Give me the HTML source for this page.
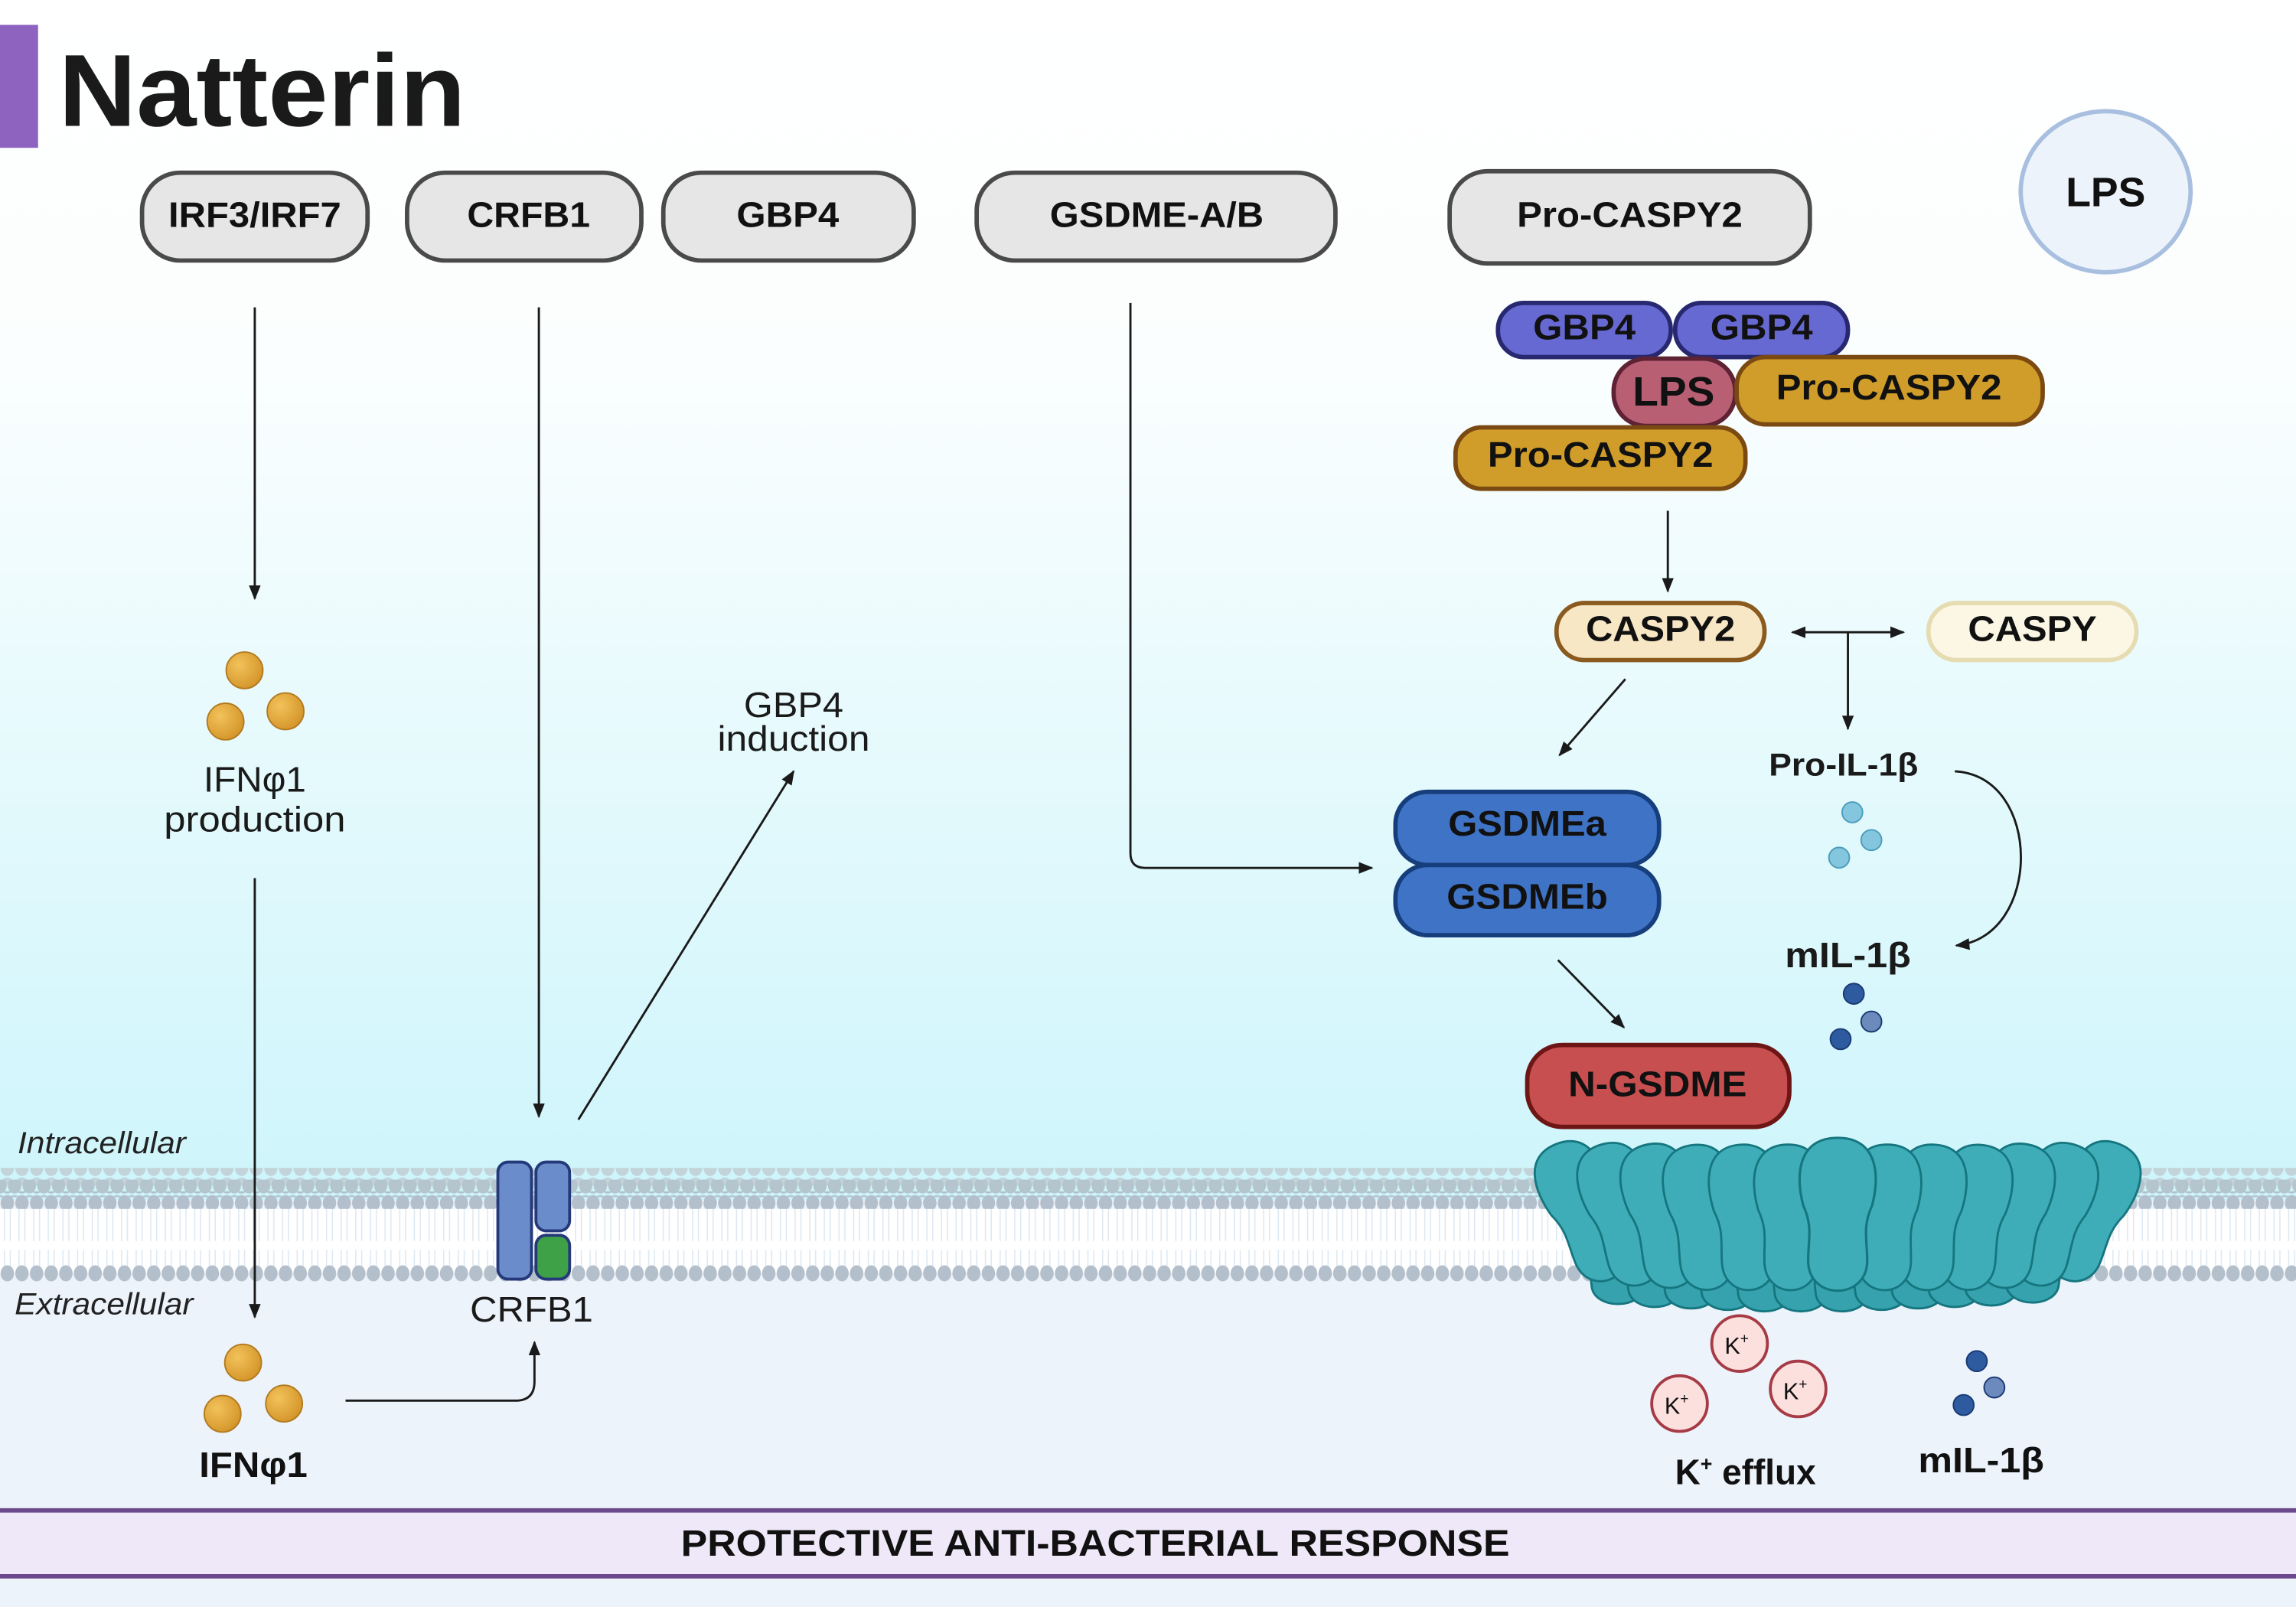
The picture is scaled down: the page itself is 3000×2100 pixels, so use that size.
<!DOCTYPE html>
<html><head><meta charset="utf-8"><style>
html,body{margin:0;padding:0;background:#fff;}
svg{display:block;}
text{font-family:"Liberation Sans",sans-serif;}
</style></head><body>
<svg width="3000" height="2100" viewBox="0 0 1568 1098" preserveAspectRatio="none" xmlns="http://www.w3.org/2000/svg">
<defs>
<linearGradient id="bg" x1="0" y1="0" x2="0" y2="1">
<stop offset="0" stop-color="#ffffff"/>
<stop offset="0.3" stop-color="#fbfefe"/>
<stop offset="1" stop-color="#cdf5fb"/>
</linearGradient>
<pattern id="headsTop" x="0" y="0" width="10" height="12" patternUnits="userSpaceOnUse">
<ellipse cx="5" cy="6" rx="4.6" ry="5.5" fill="#c2d3d9"/>
</pattern>
<pattern id="headsMid" x="5" y="0" width="10" height="12" patternUnits="userSpaceOnUse">
<ellipse cx="5" cy="6" rx="4.6" ry="5.5" fill="#b5c5cd"/>
</pattern>
<pattern id="headsBot" x="0" y="0" width="10" height="12" patternUnits="userSpaceOnUse">
<ellipse cx="5" cy="6" rx="4.6" ry="5.5" fill="#b3bfcb"/>
</pattern>
<pattern id="tails" x="0" y="0" width="10" height="46" patternUnits="userSpaceOnUse">
<path d="M3 0 L3 20 M7 0 L7 20 M3 26 L3 46 M7 26 L7 46" stroke="#dce8f4" stroke-width="0.8"/>
</pattern>
<marker id="ar" markerWidth="10" markerHeight="10" refX="9" refY="5" orient="auto" markerUnits="userSpaceOnUse">
<path d="M0 1 L10 5 L0 9 Z" fill="#1a1a1a"/>
</marker>
<radialGradient id="gold" cx="0.35" cy="0.35" r="0.7">
<stop offset="0" stop-color="#f2c25a"/><stop offset="1" stop-color="#d4952a"/>
</radialGradient>
<path id="sub" d="M0 -52 C24 -52 26 -28 21 -8 C15 6 18 14 18 28 C18 54 -18 54 -18 28 C-18 14 -15 6 -21 -8 C-26 -28 -24 -52 0 -52 Z"/>
<path id="low" d="M0 -20 C18 -20 20 0 18 14 C16 30 -16 30 -18 14 C-20 0 -18 -20 0 -20 Z"/>
</defs>

<rect x="0" y="0" width="1568" height="820" fill="url(#bg)"/>
<rect x="0" y="820" width="1568" height="278" fill="#edf3fb"/>

<rect x="0" y="826" width="1568" height="44" fill="#ffffff"/>
<rect x="0" y="826" width="1568" height="42" fill="url(#tails)"/>
<rect x="0" y="798" width="1568" height="12" fill="url(#headsTop)"/>
<rect x="0" y="806" width="1568" height="12" fill="url(#headsMid)"/>
<rect x="0" y="814" width="1568" height="12" fill="url(#headsBot)"/>
<rect x="0" y="864" width="1568" height="12" fill="url(#headsBot)"/>

<rect x="0" y="17" width="26" height="84" fill="#8e62bf"/>
<text x="40" y="86" font-size="70" font-weight="bold" fill="#1a1a1a" textLength="278" lengthAdjust="spacingAndGlyphs">Natterin</text>

<g fill="#e6e6e6" stroke="#4a4a4a" stroke-width="3">
<rect x="97" y="118" width="154" height="60" rx="26"/>
<rect x="278" y="118" width="160" height="60" rx="26"/>
<rect x="453" y="118" width="171" height="60" rx="26"/>
<rect x="667" y="118" width="245" height="60" rx="26"/>
<rect x="990" y="117" width="246" height="63" rx="26"/>
</g>
<g font-size="24" font-weight="bold" fill="#111" text-anchor="middle">
<text x="174" y="155" textLength="118" lengthAdjust="spacingAndGlyphs">IRF3/IRF7</text>
<text x="361" y="155" textLength="84" lengthAdjust="spacingAndGlyphs">CRFB1</text>
<text x="538" y="155" textLength="70" lengthAdjust="spacingAndGlyphs">GBP4</text>
<text x="790" y="155" textLength="146" lengthAdjust="spacingAndGlyphs">GSDME-A/B</text>
<text x="1113" y="155" textLength="154" lengthAdjust="spacingAndGlyphs">Pro-CASPY2</text>
</g>
<ellipse cx="1438" cy="131" rx="58" ry="55" fill="#edf3fb" stroke="#a9bfdf" stroke-width="3"/>
<text x="1438" y="141" font-size="28" font-weight="bold" text-anchor="middle" fill="#111">LPS</text>

<g stroke-width="3">
<rect x="1023" y="207" width="118" height="37" rx="18" fill="#6769d3" stroke="#272870"/>
<rect x="1144" y="207" width="118" height="37" rx="18" fill="#6769d3" stroke="#272870"/>
<rect x="1102" y="245" width="83" height="46" rx="22" fill="#b85f74" stroke="#5d2233"/>
<rect x="1186" y="244" width="209" height="46" rx="20" fill="#d19d2a" stroke="#7a4a12"/>
<rect x="994" y="292" width="198" height="42" rx="18" fill="#d19d2a" stroke="#7a4a12"/>
</g>
<g font-weight="bold" fill="#111" text-anchor="middle">
<text x="1082" y="232" font-size="24" textLength="70" lengthAdjust="spacingAndGlyphs">GBP4</text>
<text x="1203" y="232" font-size="24" textLength="70" lengthAdjust="spacingAndGlyphs">GBP4</text>
<text x="1143" y="277" font-size="28" textLength="56" lengthAdjust="spacingAndGlyphs">LPS</text>
<text x="1290" y="273" font-size="24" textLength="154" lengthAdjust="spacingAndGlyphs">Pro-CASPY2</text>
<text x="1093" y="319" font-size="24" textLength="154" lengthAdjust="spacingAndGlyphs">Pro-CASPY2</text>
</g>

<rect x="1063" y="412" width="142" height="39" rx="19" fill="#f8e7c4" stroke="#8a5a1e" stroke-width="3"/>
<text x="1134" y="438" font-size="24" font-weight="bold" text-anchor="middle" fill="#111" textLength="102" lengthAdjust="spacingAndGlyphs">CASPY2</text>
<rect x="1317" y="412" width="142" height="39" rx="19" fill="#fbf7e4" stroke="#e6dcb2" stroke-width="3"/>
<text x="1388" y="438" font-size="24" font-weight="bold" text-anchor="middle" fill="#111" textLength="88" lengthAdjust="spacingAndGlyphs">CASPY</text>

<g stroke="#1a1a1a" stroke-width="1.5" fill="none">
<line x1="174" y1="210" x2="174" y2="409" marker-end="url(#ar)"/>
<line x1="174" y1="600" x2="174" y2="900" marker-end="url(#ar)"/>
<path d="M236 957 L352 957 Q365 957 365 944 L365 917" marker-end="url(#ar)"/>
<line x1="368" y1="210" x2="368" y2="763" marker-end="url(#ar)"/>
<line x1="395" y1="765" x2="542" y2="527" marker-end="url(#ar)"/>
<path d="M772 207 L772 583 Q772 593 782 593 L937 593" marker-end="url(#ar)"/>
<line x1="1139" y1="349" x2="1139" y2="404" marker-end="url(#ar)"/>
<line x1="1110" y1="464" x2="1065" y2="516" marker-end="url(#ar)"/>
<line x1="1234" y1="432" x2="1224" y2="432" marker-end="url(#ar)"/>
<line x1="1230" y1="432" x2="1300" y2="432" marker-end="url(#ar)"/>
<line x1="1262" y1="432" x2="1262" y2="498" marker-end="url(#ar)"/>
<path d="M1335 527 C1395 530, 1395 640, 1336 646" marker-end="url(#ar)"/>
<line x1="1064" y1="656" x2="1109" y2="702" marker-end="url(#ar)"/>
</g>

<g fill="url(#gold)" stroke="#b27a1e" stroke-width="1">
<circle cx="167" cy="458" r="12.5"/><circle cx="154" cy="493" r="12.5"/><circle cx="195" cy="486" r="12.5"/>
<circle cx="166" cy="931" r="12.5"/><circle cx="152" cy="966" r="12.5"/><circle cx="194" cy="959" r="12.5"/>
</g>
<g font-size="24" fill="#1a1a1a" text-anchor="middle">
<text x="174" y="541" textLength="70" lengthAdjust="spacingAndGlyphs">IFNφ1</text>
<text x="174" y="568" textLength="124" lengthAdjust="spacingAndGlyphs">production</text>
<text x="542" y="490" textLength="68" lengthAdjust="spacingAndGlyphs">GBP4</text>
<text x="542" y="513" textLength="104" lengthAdjust="spacingAndGlyphs">induction</text>
<text x="363" y="903" textLength="84" lengthAdjust="spacingAndGlyphs">CRFB1</text>
</g>
<text x="173" y="1009" font-size="24" font-weight="bold" text-anchor="middle" fill="#111" textLength="74" lengthAdjust="spacingAndGlyphs">IFNφ1</text>
<text x="12" y="788" font-size="21" font-style="italic" fill="#222" textLength="115" lengthAdjust="spacingAndGlyphs">Intracellular</text>
<text x="10" y="898" font-size="21" font-style="italic" fill="#222" textLength="122" lengthAdjust="spacingAndGlyphs">Extracellular</text>

<rect x="340" y="794" width="23" height="80" rx="7" fill="#6a8cca" stroke="#25397a" stroke-width="2"/>
<rect x="366" y="794" width="23" height="47" rx="7" fill="#6a8cca" stroke="#25397a" stroke-width="2"/>
<rect x="366" y="844" width="23" height="30" rx="7" fill="#3ea047" stroke="#25397a" stroke-width="2"/>

<rect x="953" y="541" width="180" height="50" rx="22" fill="#3e73c6" stroke="#173e7c" stroke-width="3"/>
<rect x="953" y="591" width="180" height="48" rx="22" fill="#3e73c6" stroke="#173e7c" stroke-width="3"/>
<text x="1043" y="571" font-size="24" font-weight="bold" text-anchor="middle" fill="#111" textLength="108" lengthAdjust="spacingAndGlyphs">GSDMEa</text>
<text x="1043" y="621" font-size="24" font-weight="bold" text-anchor="middle" fill="#111" textLength="110" lengthAdjust="spacingAndGlyphs">GSDMEb</text>

<text x="1259" y="530" font-size="22" font-weight="bold" text-anchor="middle" fill="#1a1a1a" textLength="102" lengthAdjust="spacingAndGlyphs">Pro-IL-1β</text>
<g fill="#84c6dd" stroke="#4c9cbc" stroke-width="1">
<circle cx="1265" cy="555" r="7"/><circle cx="1278" cy="574" r="7"/><circle cx="1256" cy="586" r="7"/>
</g>
<text x="1262" y="661" font-size="24" font-weight="bold" text-anchor="middle" fill="#1a1a1a" textLength="86" lengthAdjust="spacingAndGlyphs">mIL-1β</text>
<g stroke="#1a3a74" stroke-width="1">
<circle cx="1266" cy="679" r="7" fill="#2e5aa0"/><circle cx="1278" cy="698" r="7" fill="#6c8abb"/><circle cx="1257" cy="710" r="7" fill="#2e5aa0"/>
</g>

<rect x="1043" y="714" width="179" height="56" rx="24" fill="#c84f4f" stroke="#6e1616" stroke-width="3"/>
<text x="1132" y="749" font-size="24" font-weight="bold" text-anchor="middle" fill="#111" textLength="122" lengthAdjust="spacingAndGlyphs">N-GSDME</text>

<!-- pore -->
<g fill="#35a2ad" stroke="#16767f" stroke-width="1.5">
<use href="#low" x="1105" y="865"/><use href="#low" x="1130" y="867"/><use href="#low" x="1155" y="868"/>
<use href="#low" x="1180" y="869"/><use href="#low" x="1205" y="870"/><use href="#low" x="1230" y="870"/>
<use href="#low" x="1258" y="870"/><use href="#low" x="1285" y="869"/><use href="#low" x="1310" y="868"/>
<use href="#low" x="1335" y="867"/><use href="#low" x="1360" y="866"/><use href="#low" x="1388" y="864"/>
</g>
<g fill="#3fadb8" stroke="#16767f" stroke-width="1.5">
<use href="#sub" transform="translate(1082 830) rotate(-22)"/>
<use href="#sub" transform="translate(1428 830) rotate(22)"/>
<use href="#sub" transform="translate(1108 832) rotate(-16)"/>
<use href="#sub" transform="translate(1402 832) rotate(16)"/>
<use href="#sub" transform="translate(1135 833) rotate(-11)"/>
<use href="#sub" transform="translate(1375 833) rotate(11)"/>
<use href="#sub" transform="translate(1162 834) rotate(-7)"/>
<use href="#sub" transform="translate(1348 834) rotate(7)"/>
<use href="#sub" transform="translate(1192 834) rotate(-4)"/>
<use href="#sub" transform="translate(1318 834) rotate(4)"/>
<use href="#sub" transform="translate(1222 834) rotate(-2)"/>
<use href="#sub" transform="translate(1288 834) rotate(2)"/>
<use href="#sub" transform="translate(1255 832) scale(1.12 1.05)"/>
</g>

<g fill="#fbe0de" stroke="#a63a45" stroke-width="2">
<circle cx="1188" cy="918" r="19"/><circle cx="1147" cy="959" r="19"/><circle cx="1228" cy="949" r="19"/>
</g>
<g font-size="16" fill="#111" text-anchor="middle">
<text x="1186" y="925">K<tspan font-size="10" dy="-7">+</tspan></text>
<text x="1145" y="966">K<tspan font-size="10" dy="-7">+</tspan></text>
<text x="1226" y="956">K<tspan font-size="10" dy="-7">+</tspan></text>
</g>
<text x="1192" y="1014" font-size="24" font-weight="bold" text-anchor="middle" fill="#111">K<tspan font-size="14" dy="-9">+</tspan><tspan dy="9"> efflux</tspan></text>
<g stroke="#1a3a74" stroke-width="1">
<circle cx="1350" cy="930" r="7" fill="#2e5aa0"/><circle cx="1362" cy="948" r="7" fill="#6c8abb"/><circle cx="1341" cy="960" r="7" fill="#2e5aa0"/>
</g>
<text x="1353" y="1006" font-size="24" font-weight="bold" text-anchor="middle" fill="#111" textLength="86" lengthAdjust="spacingAndGlyphs">mIL-1β</text>

<rect x="0" y="1032" width="1568" height="45" fill="#efe8f8"/>
<line x1="0" y1="1032" x2="1568" y2="1032" stroke="#6a4a8c" stroke-width="3"/>
<line x1="0" y1="1077" x2="1568" y2="1077" stroke="#6a4a8c" stroke-width="3"/>
<text x="748" y="1063" font-size="25" font-weight="bold" text-anchor="middle" fill="#111" textLength="566" lengthAdjust="spacingAndGlyphs">PROTECTIVE ANTI-BACTERIAL RESPONSE</text>
</svg>
</body></html>
